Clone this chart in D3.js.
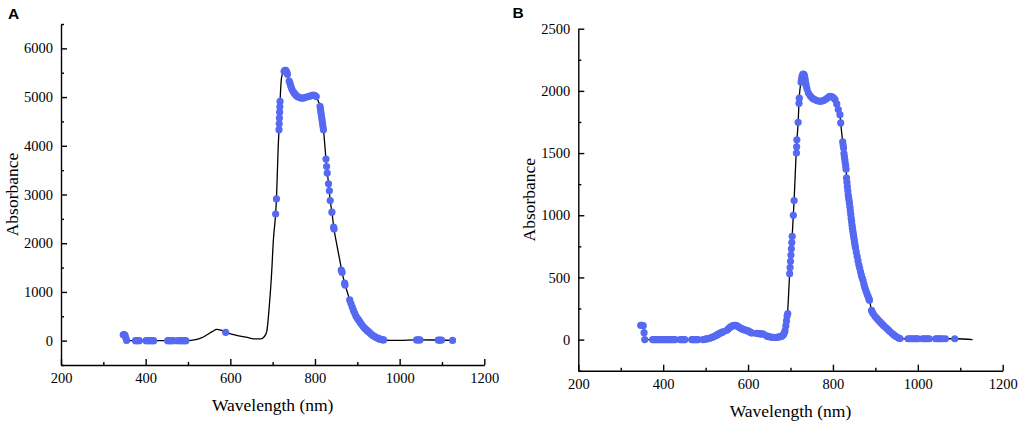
<!DOCTYPE html>
<html>
<head>
<meta charset="utf-8">
<script src="https://cdn.jsdelivr.net/npm/d3@7"></script>
<style>
  body { margin: 0; background: #fff; }
  svg text { font-family: "Times New Roman", "Liberation Serif", serif; fill: #000; }
  svg text.letter { font-family: Arial, "Liberation Sans", sans-serif; font-weight: bold; }
</style>
</head>
<body>
<svg id="chart" width="1021" height="425"></svg>
<script>
// x axis ticks (shared)
const xMajor = [200, 400, 600, 800, 1000, 1200];
const xMinor = [300, 500, 700, 900, 1100];

// panel A: y ticks
const aYMajor = [0, 1000, 2000, 3000, 4000, 5000, 6000];
const aYMinor = [-500, 500, 1500, 2500, 3500, 4500, 5500, 6500];

// panel A: spectrum [wavelength nm, absorbance]
const aSpectrum = [
  [348,120],[352,60],[356,5],[365,0],[400,0],[450,0],[500,2],[515,15],[530,50],[545,120],
  [558,190],[568,230],[578,215],[590,170],[605,130],[620,100],[640,65],[660,35],[672,35],[680,80],
  [686,185],[692,700],[697,1300],[702,2100],[707,2600],[709,2910],[713,3950],[715,4330],[717.5,4910],[721,5400],
  [726,5530],[730,5550],[734,5480],[740,5320],[748,5120],[756,5030],[765,4985],[775,4990],[785,5010],[795,5040],
  [801,5025],[806,4950],[812,4800],[816,4570],[820,4330],[826,3727],[832,3220],[836,2877],[840,2638],[845,2290],
  [852,1950],[858,1680],[863,1450],[871,1150],[878,950],[882,836],[888,690],[894,560],[900,460],[906,385],
  [912,310],[918,250],[926,185],[934,125],[942,80],[950,45],[958,22],[966,8],[980,5],[1000,5],
  [1040,15],[1080,13],[1100,10],[1125,5]
];

// panel A: selected wavelengths (markers)
const aSelected = [
  [347,120],[349,125],[351,115],[353,60],[355,5],
  [376,0],[380,0],[385,0],[401,0],[405,0],[410,0],[415,0],[419,0],
  [452,0],[456,0],[461,0],[466,0],[476,0],[481,0],[486,0],[491,0],[495,0],
  [589,170],[707,2600],[709,2910],
  [715,4330],[715.5,4450],[716,4570],[716.5,4690],[717,4800],[717.5,4910],
  [727,5530],[729,5550],[731,5550],[733,5520],[735,5470],
  [739,5330],[741,5280],[743,5220],[745,5170],[748,5120],[751,5080],[754,5050],[757,5020],[760,5005],[764,4990],
  [768,4980],[772,4980],[776,4990],[780,5000],[784,5010],[788,5020],[792,5030],[796,5040],[800,5030],[803,5010],
  [812,4808],[813,4750],[814,4690],[815,4630],[816,4570],[817,4510],[818,4450],[819,4390],[820,4330],
  [826,3727],[827.5,3575],[829,3440],[832,3220],[834,3076],[836,2877],[840,2638],[844,2330],[845,2290],
  [862,1450],[864,1400],[870,1180],[871,1140],
  [882,836],[885,760],[888,690],[891,620],[894,560],[897,500],[900,460],[903,425],[906,385],[909,345],
  [912,310],[915,280],[918,250],[921,225],[924,200],[927,180],[930,155],[933,130],[936,110],[939,95],
  [942,80],[945,65],[948,50],[951,40],[954,30],[957,22],[960,16],[962,14],
  [1040,15],[1044,15],[1048,15],[1091,12],[1095,12],[1099,12],[1125,5]
];

// panel B: y ticks
const bYMajor = [0, 500, 1000, 1500, 2000, 2500];
const bYMinor = [-250, 250, 750, 1250, 1750, 2250];

// panel B: spectrum
const bSpectrum = [
  [348,115],[353,115],[355,56],[357,0],[365,0],[400,0],[450,0],[480,0],[494,0],[510,12],
  [525,35],[541,63],[550,75],[560,105],[568,115],[577,104],[590,80],[600,70],[609,53],[620,50],
  [636,44],[644,30],[656,19],[665,17],[674,22],[680,30],[685,50],[689,110],[693,210],[698,530],
  [704,830],[706.6,1000],[708.5,1118],[714,1550],[718,1747],[720.5,1941],[726,2091],[730,2135],[734,2100],[742,1984],
  [754,1935],[766,1918],[778,1922],[790,1950],[797,1955],[805,1930],[812.6,1850],[816.5,1809],[818.3,1742],[823,1590],
  [827,1470],[831,1360],[834,1230],[836,1165],[839,1095],[843,975],[847,870],[852,760],[860,615],[868,505],
  [877,400],[886,317],[891,235],[895,208],[899,188],[911,142],[927,89],[943,40],[958,8],[975,7],
  [1000,7],[1050,7],[1090,7],[1129,0]
];

// panel B: selected wavelengths
const bSelected = [
  [347,115],[350,115],[353,112],[355,56],[356.5,0],
  [375,0],[378,0],[381,0],[384,0],[387,0],[390,0],[393,0],[396,0],[399,0],[402,0],
  [405,0],[408,0],[411,0],[414,0],[417,0],[420,0],[423,0],[426,0],[428,0],
  [440,0],[443,0],[446,0],[449,0],[451,0],
  [467,0],[470,0],[473,0],[476,0],[479,0],[482,0],
  [494,0],[497,2],[500,4],[503,6],[506,8],[509,11],[512,14],[515,18],[518,22],[521,27],
  [524,32],[527,38],[530,44],[533,50],[536,55],[539,60],[541.6,63],
  [550,75],[553,85],[556,95],[559,103],[562,108],[565,112],[568,115],[571,114],[574,110],[577,104],
  [580,97],[583,91],[586,86],[589,82],[592,78],[595,75],[598,72],[601,68],[604,62],[607,56],[609,53],
  [620,50],[623,49],[626,48],[629,47],[632,46],[636,44],
  [644,30],[647,26],[650,23],[653,21],[656,19],[659,18],[662,17],[665,17],[668,18],[671,20],
  [674,22],[677,25],[680,30],[683,38],[685,50],[687,70],[689,110],[690.5,150],[692,190],[693.5,210],
  [698,530],[699,580],[700,630],[701,680],[702,730],[703,780],[704,830],[706.6,1000],[708.5,1118],
  [714,1500],[714.5,1550],[715,1607],[718,1747],[720,1900],[720.7,1941],
  [725,2070],[726,2091],[727,2110],[728,2122],[729,2130],[730,2135],[731,2133],[732,2128],[733,2115],[734,2100],
  [735,2080],[736,2060],[737,2040],[739,2015],[742,1984],[746,1962],[750,1946],[754,1935],[758,1928],[762,1922],
  [766,1918],[770,1916],[774,1918],[778,1922],[782,1930],[786,1940],[790,1950],[793,1956],[797,1955],[801,1945],
  [805,1930],[809,1895],[812.6,1850],[816.5,1809],[818.3,1742],
  [823,1590],[824,1565],[825,1540],
  [826,1495],[827,1470],[828,1445],[829,1420],[830,1395],[831,1370],
  [832,1300],[833,1265],[834,1230],[835,1197],[836,1165],
  [837,1140],[838,1118],[839,1095],[840,1065],[841,1035],[842,1005],[843,975],[844,950],
  [845,920],[846,895],[847,870],[848,848],[849,826],[850,805],[851,782],[852,760],
  [853,740],[855,705],[857,670],[859,635],[861,602],[863,575],[865,545],[867,518],
  [869,495],[871,475],[873,445],[875,420],[877,400],[879,380],[881,362],[883,345],[885,327],[886,317],
  [891,235],[893,220],[895,208],[899,188],[903,172],[907,157],[911,142],[915,128],[919,114],[923,101],
  [927,89],[931,76],[935,63],[939,51],[943,40],[947,29],[951,20],[955,12],[958,8],
  [977,7],[981,7],[985,7],[989,7],[993,7],[997,7],[1000,7],
  [1011,7],[1015,7],[1019,7],[1023,7],[1027,7],
  [1042,7],[1046,7],[1050,7],[1054,7],[1058,7],[1065,7],[1087,7]
];

const svg = d3.select("#chart");

function drawPanel(p) {
  const g = svg.append("g").attr("transform", `translate(${p.left},${p.top})`);

  const x = d3.scaleLinear().domain([200, 1200]).range([0, p.width]);
  const y = d3.scaleLinear().domain(p.yDomain).range([p.height, 0]);

  // x axis: minor then major ticks, all pointing inward
  g.append("g")
    .attr("transform", `translate(0,${p.height})`)
    .call(d3.axisBottom(x).tickValues(xMinor).tickSizeInner(-3).tickSizeOuter(0).tickFormat(() => ""))
    .call(a => a.select(".domain").remove());
  g.append("g")
    .attr("transform", `translate(0,${p.height})`)
    .call(d3.axisBottom(x).tickValues(xMajor).tickSizeInner(-6).tickSizeOuter(0).tickPadding(8).tickFormat(d3.format("d")));

  // y axis
  g.append("g")
    .call(d3.axisLeft(y).tickValues(p.yMinor).tickSizeInner(-3).tickSizeOuter(0).tickFormat(() => ""))
    .call(a => a.select(".domain").remove());
  g.append("g")
    .call(d3.axisLeft(y).tickValues(p.yMajor).tickSizeInner(-6).tickSizeOuter(0).tickPadding(8).tickFormat(d3.format("d")));

  g.selectAll(".domain, .tick line").attr("stroke", "#000").attr("stroke-width", 1.4);
  g.selectAll(".tick text").attr("fill", "#000").attr("font-size", 14.5).style("font-size", "14.5px");

  // spectrum line
  const line = d3.line()
    .x(d => x(d[0]))
    .y(d => y(d[1]))
    .curve(d3.curveMonotoneX);
  g.append("path")
    .datum(p.spectrum)
    .attr("fill", "none")
    .attr("stroke", "#000")
    .attr("stroke-width", 1.3)
    .attr("d", line);

  // selected points
  g.selectAll("circle")
    .data(p.selected)
    .join("circle")
    .attr("cx", d => x(d[0]))
    .attr("cy", d => y(d[1]))
    .attr("r", p.radius)
    .attr("fill", "#5669f2");

  // titles
  g.append("text")
    .attr("x", p.width / 2)
    .attr("y", p.height + 46)
    .attr("text-anchor", "middle")
    .style("font-size", "17.5px")
    .text("Wavelength (nm)");
  g.append("text")
    .attr("transform", `translate(-43.5,${p.height / 2}) rotate(-90)`)
    .attr("text-anchor", "middle")
    .style("font-size", "17.5px")
    .text("Absorbance");

  svg.append("text")
    .attr("class", "letter")
    .attr("x", p.letterX)
    .attr("y", p.letterY)
    .style("font-size", "15.5px")
    .text(p.letter);
}

drawPanel({
  left: 61, top: 24, width: 423.3, height: 341,
  yDomain: [-500, 6500], yMajor: aYMajor, yMinor: aYMinor,
  spectrum: aSpectrum, selected: aSelected, radius: 3.6,
  letter: "A", letterX: 8, letterY: 18.5
});

drawPanel({
  left: 578.3, top: 28.7, width: 424.4, height: 342,
  yDomain: [-250, 2500], yMajor: bYMajor, yMinor: bYMinor,
  spectrum: bSpectrum, selected: bSelected, radius: 3.6,
  letter: "B", letterX: 512.5, letterY: 17.5
});
</script>
</body>
</html>
